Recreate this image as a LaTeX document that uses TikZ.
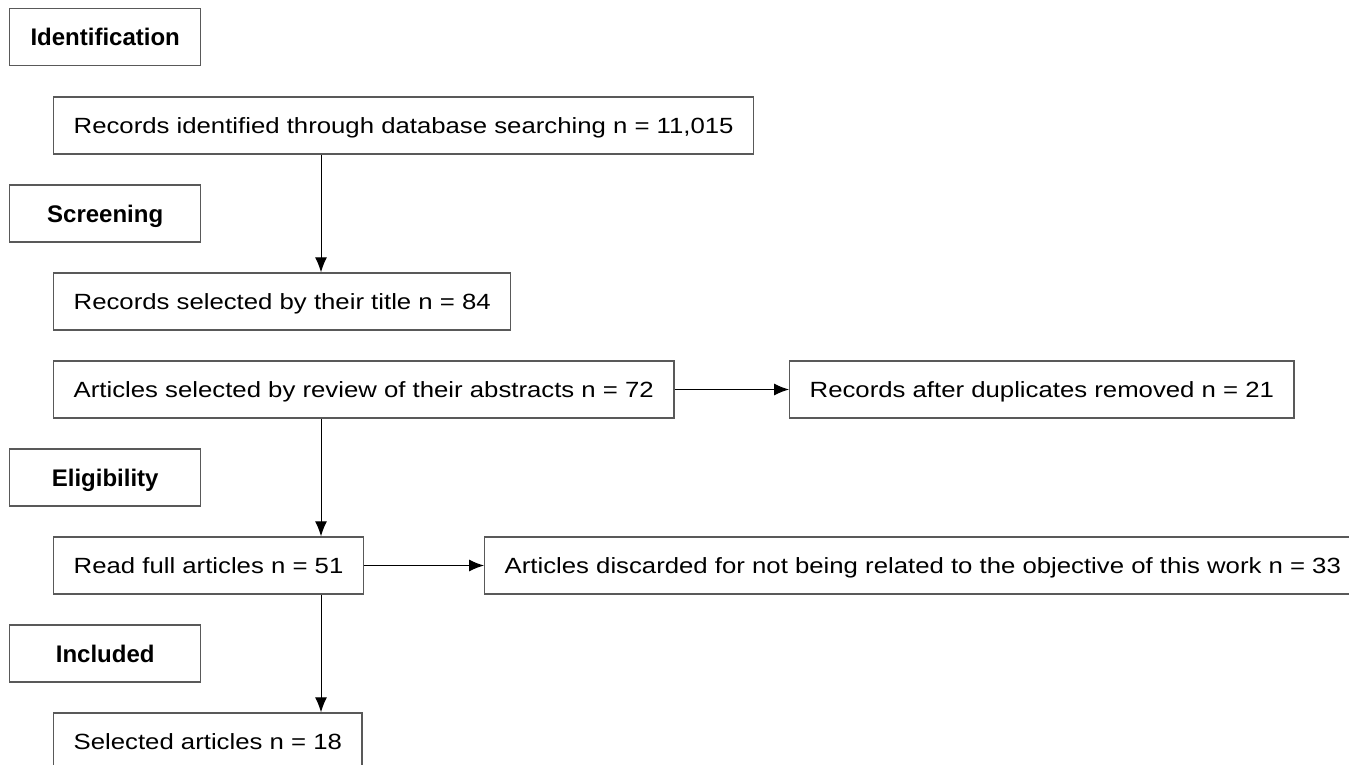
\documentclass[tikz,border=0pt]{standalone}
\usepackage{fontspec}
\setmainfont{Liberation Sans}
\newfontfamily\bodyfont[FakeStretch=1.17]{Liberation Sans}
\usetikzlibrary{arrows.meta}

\tikzset{
  stage/.style={draw=black!65, line width=0.7pt, anchor=west, minimum width=95.5pt,
    minimum height=28.5pt, inner sep=0pt, text height=8.6pt, text depth=0pt,
    font=\fontsize{12}{14}\selectfont\bfseries},
  rec/.style={draw=black!65, line width=0.7pt, anchor=west, minimum height=28.5pt,
    inner xsep=10pt, inner ysep=0pt, text height=7.9pt, text depth=0pt,
    font=\bodyfont\fontsize{11}{13}\selectfont},
  arr/.style={-{Latex[length=7.5pt,width=6pt]}, line width=0.5pt}
}

\begin{document}
\begin{tikzpicture}
    \useasboundingbox (0,0) rectangle (674.5pt,-382.5pt);
    \coordinate (spine) at (160.5pt,0);

    % Stage labels
    \node[stage] (idf) at (4.5pt,-18.5pt) {Identification};
    \node[stage] (scr) at (4.5pt,-106.75pt) {Screening};
    \node[stage] (elg) at (4.5pt,-238.75pt) {Eligibility};
    \node[stage] (inc) at (4.5pt,-326.75pt) {Included};

    % Main flow
    \node[rec] (found) at (26.5pt,-62.75pt) {Records identified through database searching n = 11,015};
    \node[rec] (title) at (26.5pt,-150.75pt) {Records selected by their title n = 84};
    \node[rec] (abstr) at (26.5pt,-194.75pt) {Articles selected by review of their abstracts n = 72};
    \node[rec] (full) at (26.5pt,-282.75pt) {Read full articles n = 51};
    \node[rec] (sel) at (26.5pt,-370.75pt) {Selected articles n = 18};

    % Side boxes
    \node[rec] (dup) at (394.5pt,-194.75pt) {Records after duplicates removed n = 21};
    \node[rec] (disc) at (242pt,-282.75pt) {Articles discarded for not being related to the objective of this work n = 33};

    \draw[arr] (found.south -| spine) -- (title.north -| spine);
    \draw[arr] (abstr.south -| spine) -- (full.north -| spine);
    \draw[arr] (full.south -| spine) -- (sel.north -| spine);
    \draw[arr] (abstr) -- (dup);
    \draw[arr] (full) -- (disc);
\end{tikzpicture}
\end{document}
